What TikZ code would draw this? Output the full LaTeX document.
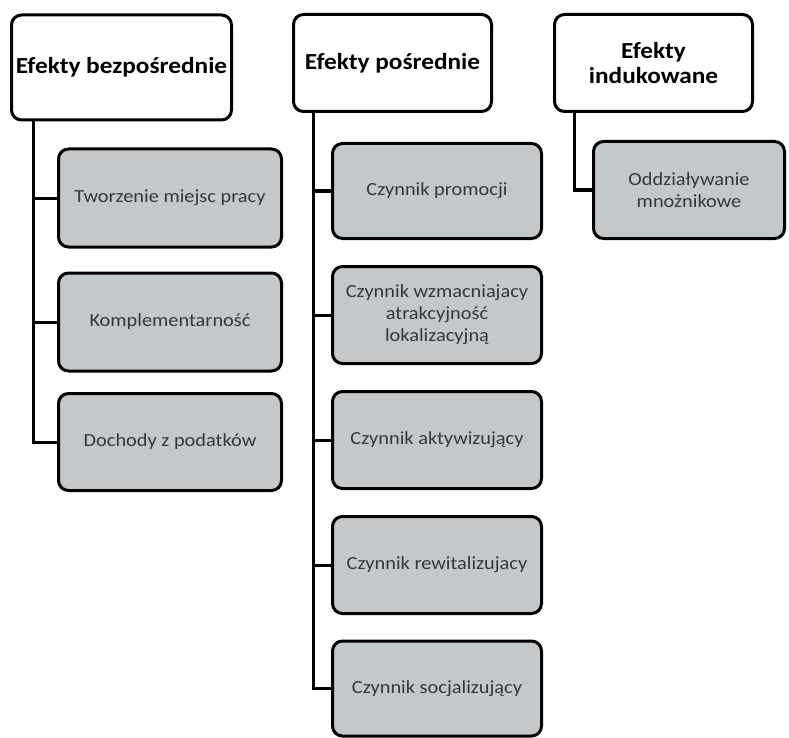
\documentclass[tikz,border=0pt]{standalone}
\usepackage{fontspec}
\setmainfont[FakeStretch=1.1]{Carlito}
\definecolor{boxgray}{RGB}{197,200,203}
\definecolor{txtgray}{RGB}{55,55,55}
\begin{document}
\begin{tikzpicture}[x=1pt,y=-1pt,
  headbox/.style={draw=black, line width=3pt, rounded corners=10pt, fill=white,
    align=center, inner sep=2pt, font=\fontsize{23}{25}\selectfont\bfseries, text=black},
  itembox/.style={draw=black, line width=3pt, rounded corners=10pt, fill=boxgray,
    align=center, inner sep=2pt, font=\fontsize{18.5}{22}\selectfont, text=txtgray},
  conn/.style={draw=black, line width=3pt}]
\useasboundingbox (0,0) rectangle (789,738);
% headers
\node[headbox, minimum width=220pt, minimum height=105pt] (h1) at (121.5,67.5) {Efekty bezpośrednie};
\node[headbox, minimum width=198pt, minimum height=97pt] (h2) at (392.5,63) {Efekty pośrednie};
\node[headbox, minimum width=198pt, minimum height=97pt] (h3) at (653.5,63) {Efekty\\indukowane};
% column 1
\node[itembox, minimum width=223pt, minimum height=98pt] (a1) at (170,198) {Tworzenie miejsc pracy};
\node[itembox, minimum width=223pt, minimum height=98pt] (a2) at (170,322) {Komplementarność};
\node[itembox, minimum width=223pt, minimum height=97pt] (a3) at (170,442) {Dochody z podatków};
% column 2
\node[itembox, minimum width=209pt, minimum height=95pt] (b1) at (437,191) {Czynnik promocji};
\node[itembox, minimum width=209pt, minimum height=97pt] (b2) at (437,315) {Czynnik wzmacniajacy\\atrakcyjność\\lokalizacyjną};
\node[itembox, minimum width=209pt, minimum height=97pt] (b3) at (437,440) {Czynnik aktywizujący};
\node[itembox, minimum width=209pt, minimum height=97pt] (b4) at (437,565) {Czynnik rewitalizujacy};
\node[itembox, minimum width=209pt, minimum height=95pt] (b5) at (437,688.5) {Czynnik socjalizujący};
% column 3
\node[itembox, minimum width=191pt, minimum height=97pt] (c1) at (689,190) {Oddziaływanie\\mnożnikowe};
% connector spines
\coordinate (v1) at (33,0);
\coordinate (v2) at (313,0);
\coordinate (v3) at (574,0);
\foreach \n in {a1,a2,a3} \draw[conn] (h1.south -| v1) |- (\n.west);
\foreach \n in {b1,b2,b3,b4,b5} \draw[conn] (h2.south -| v2) |- (\n.west);
\draw[conn] (h3.south -| v3) |- (c1.west);
\end{tikzpicture}
\end{document}
